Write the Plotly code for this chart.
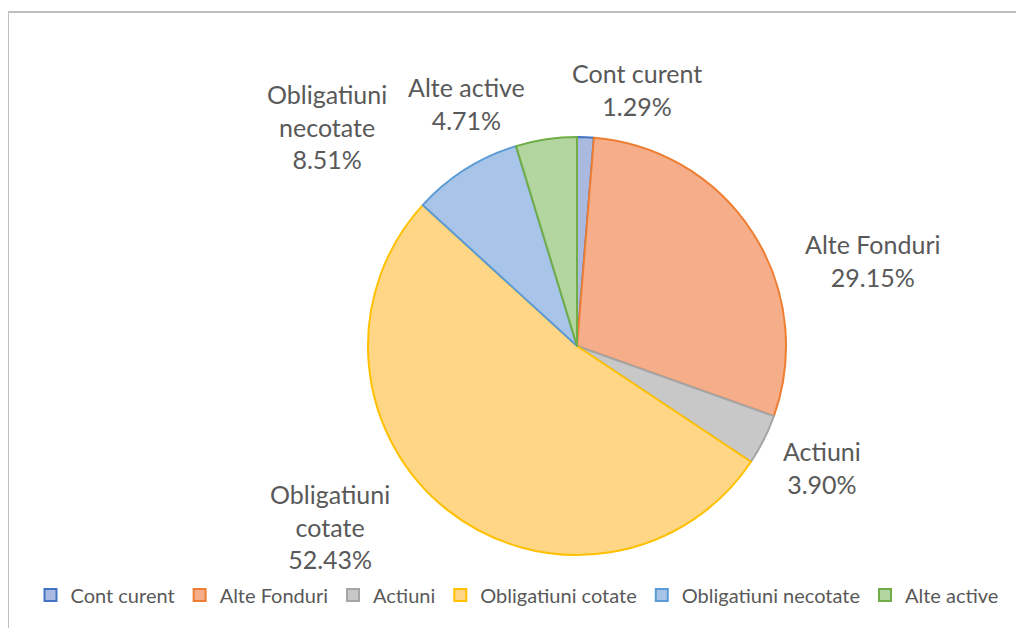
import plotly.graph_objects as go

categories = ["Cont curent", "Alte Fonduri", "Actiuni", "Obligatiuni cotate",
              "Obligatiuni necotate", "Alte active"]
values = [1.29, 29.15, 3.90, 52.43, 8.51, 4.71]
label_texts = ["Cont curent<br>1.29%", "Alte Fonduri<br>29.15%", "Actiuni<br>3.90%",
               "Obligatiuni<br>cotate<br>52.43%", "Obligatiuni<br>necotate<br>8.51%",
               "Alte active<br>4.71%"]

fill_colors = ["#aab9e0", "#f6ae8a", "#c8c8c8", "#ffd685", "#a8c4e8", "#b3d5a0"]
line_colors = ["#4472c4", "#ed7d31", "#a5a5a5", "#ffc000", "#5b9bd5", "#70ad47"]

W, H = 1024, 628
OFF = 8  # page body margin offset
# label centers in page pixels (x, y)
label_pos = [(637, 90), (873, 261), (822, 467), (330, 526), (327, 126), (466, 104)]

fig = go.Figure()
fig.add_trace(go.Pie(
    labels=categories, values=values, sort=False, direction="clockwise",
    rotation=0, textinfo="none", hoverinfo="label+percent",
    marker=dict(colors=fill_colors, line=dict(color=line_colors, width=2)),
    domain=dict(x=[(368 - OFF) / W, (786 - OFF) / W],
                y=[(H - 555 + OFF) / H, (H - 137 + OFF) / H]),
))

annotations = []
for txt, (px, py) in zip(label_texts, label_pos):
    annotations.append(dict(
        x=(px - OFF) / W, y=1 - (py - OFF) / H, xref="paper", yref="paper", text=txt,
        showarrow=False, xanchor="center", yanchor="middle", align="center",
        font=dict(family="Lato", size=25, color="#595959"),
    ))

fig.update_layout(
    width=W, height=H, margin=dict(l=0, r=0, t=0, b=0),
    paper_bgcolor="white", plot_bgcolor="white",
    annotations=annotations,
    showlegend=True,
    legend=dict(orientation="h", x=(517 - OFF) / W, xanchor="center",
                y=(H - 595 + OFF) / H, yanchor="middle",
                font=dict(family="Lato", size=20, color="#595959"),
                itemwidth=30, tracegroupgap=0, traceorder="normal"),
    shapes=[dict(type="rect", xref="paper", yref="paper",
                 x0=0 / W, x1=1.05, y0=-0.05, y1=1 - (12 - OFF) / H,
                 line=dict(color="#bfbfbf", width=2))],
)

fig.write_html("out.html")
